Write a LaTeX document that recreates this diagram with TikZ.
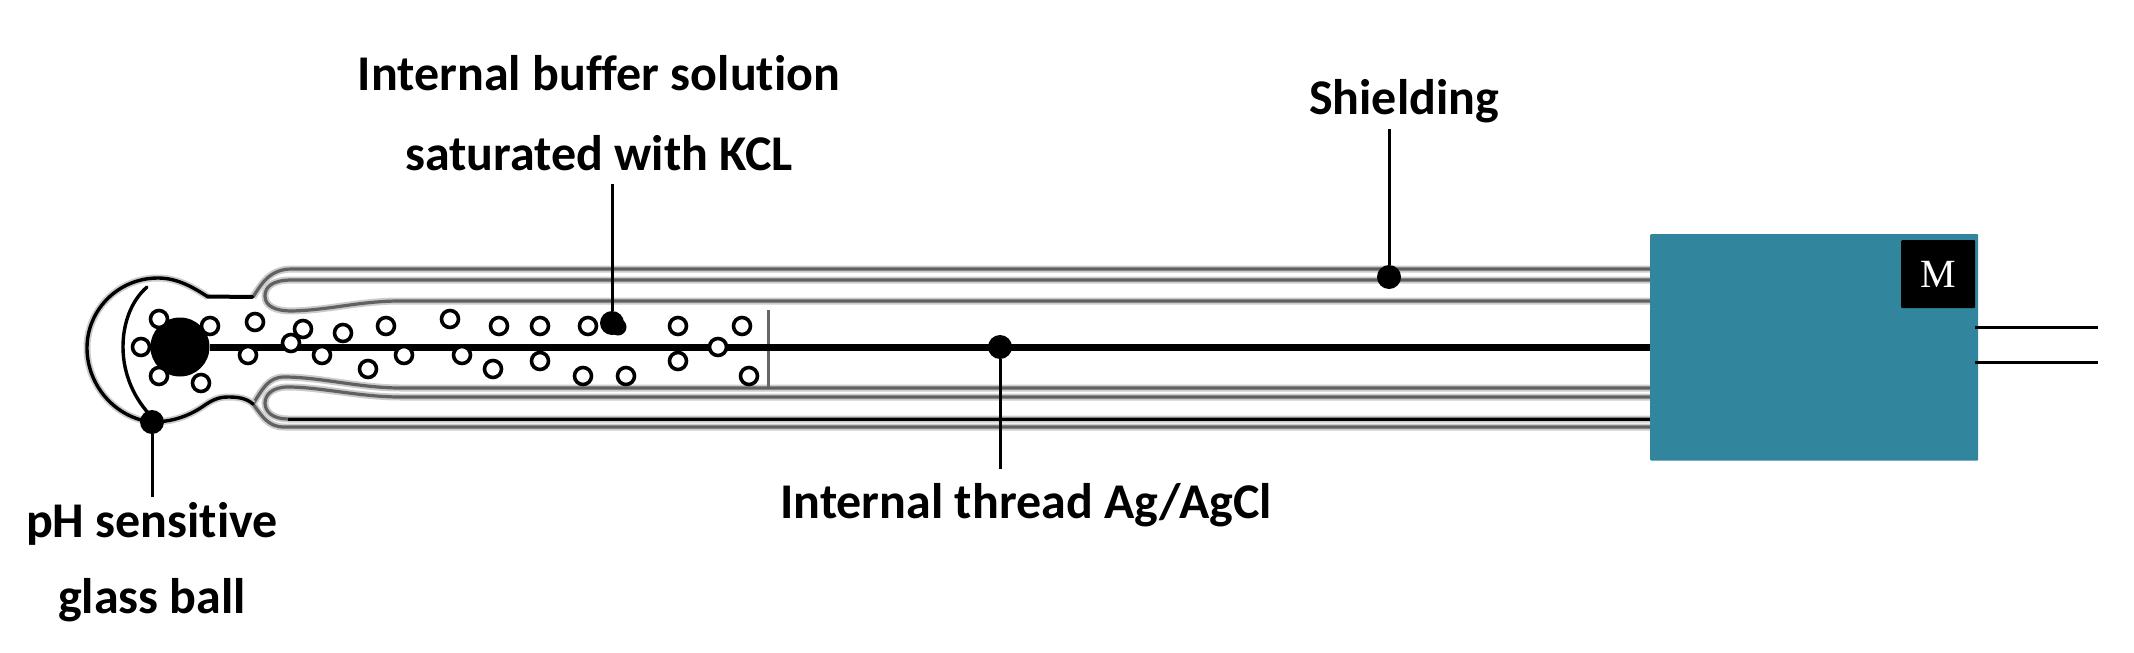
\documentclass[tikz,border=0pt]{standalone}
\usepackage{fontspec}
\setmainfont[RawFeature={-liga;-clig;-dlig}]{Carlito}
\newfontfamily\mfont{Liberation Serif}
\definecolor{teal1}{HTML}{31859C}
\tikzset{
  lab/.style={font=\fontsize{50}{60}\selectfont\bfseries,inner sep=0pt,text=black},
  dotn/.style={circle,fill=black,inner sep=0pt,minimum size=24pt},
  bub/.style={circle,draw=black,fill=white,line width=3.6pt,inner sep=0pt,minimum size=17pt},
  glasshalo/.style={draw=black!20,line width=7pt},
  glass/.style={draw=black!62,line width=3.2pt},
  leader/.style={draw=black,line width=3pt},
  bulb/.style={draw=black,line width=3.4pt,line cap=round},
  wire/.style={draw=black,line width=3pt}
}
\newcommand{\tubepaths}[1]{
  \draw[#1] (253,297) .. controls (262,283) and (270,269) .. (292,269) -- (1652,269);
  \draw[#1] (1652,280) -- (292,280) .. controls (272,280) and (265,287) .. (265,296) .. controls (265,306) and (275,311) .. (292,311) .. controls (330,310) and (360,301) .. (400,301) -- (1652,301);
  \draw[#1] (253,404) .. controls (262,390) and (268,377) .. (284,377) .. controls (320,377) and (360,388) .. (400,388) -- (1652,388);
  \draw[#1] (1652,397) -- (400,397) .. controls (360,397) and (320,387) .. (288,387) .. controls (272,387) and (265,395) .. (265,403) .. controls (265,412) and (273,419) .. (288,419) -- (1652,419);
  \draw[#1] (253,404) .. controls (262,416) and (268,427) .. (284,427) -- (1652,427);
}
\begin{document}
\begin{tikzpicture}[x=1pt,y=-1pt]
\useasboundingbox (0,0) rectangle (2134,653);
% glass tube lines
\tubepaths{glasshalo}
\tubepaths{glass}
\draw[draw=black,line width=3pt] (288,419) -- (1652,419);
% end cap of inner tube
\draw[draw=black!60,line width=3pt] (768,310) -- (768,387);
% bulb
\draw[glasshalo] (208,297) .. controls (190,285) and (175,278) .. (158,278) .. controls (118,278) and (87,310) .. (87,348) .. controls (87,385) and (115,418) .. (152,422) .. controls (178,422) and (195,412) .. (205,405) .. controls (215,398) and (222,397) .. (228,397) .. controls (238,397) and (246,398) .. (253,404);
\draw[bulb] (208,297) .. controls (190,285) and (175,278) .. (158,278) .. controls (118,278) and (87,310) .. (87,348) .. controls (87,385) and (115,418) .. (152,422) .. controls (178,422) and (195,412) .. (205,405) .. controls (215,398) and (222,397) .. (228,397) .. controls (238,397) and (246,398) .. (253,404);
\draw[bulb,line width=4pt] (208,296.5) -- (252,297);
\draw[bulb] (147,287) .. controls (130,302) and (123,325) .. (123,347) .. controls (123,375) and (135,400) .. (152,417);
% box
\node[fill=teal1,inner sep=0pt,minimum width=328pt,minimum height=226.5pt,anchor=north west,rounded corners=1pt] (box) at (1650,234) {};
\node[fill=black,inner sep=0pt,minimum width=74pt,minimum height=68pt,anchor=north west,rounded corners=1pt,text=white,font=\mfont\fontsize{40}{40}\selectfont] (mbox) at (1901,240) {M};
% thread
\node[circle,fill=black,inner sep=0pt,minimum size=59pt] (ball) at (180,347) {};
\coordinate (threadend) at (box.west |- ball);
\draw[draw=black,line width=7pt] (ball) -- (threadend);
% output wires
\coordinate (w1a) at (1975,327);
\coordinate (w1b) at (2098,327);
\coordinate (w2a) at (1975,362);
\coordinate (w2b) at (2098,362);
\draw[wire] (w1a) -- (w1b);
\draw[wire] (w2a) -- (w2b);
% bubbles
\foreach \i/\x/\y in {1/159/319,2/210/326,3/141/347,4/159/376,5/201/383,6/255/322,7/248/355,8/303/329,9/291/343,10/322/355,11/343/333,12/368/369,13/386/326,14/404/355,15/450/319,16/499/326,17/540/326,18/588/326,19/462/355,20/493/369,21/540/361,22/583/376,23/626/376,24/678/326,25/678/361,26/742/326,27/718/347,28/749/376}
  \node[bub] (b\i) at (\x,\y) {};
% labels
\node[lab] (lbuf1) at (599,73) {Internal buffer solution};
\node[lab] (lbuf2) at (599,153) {saturated with KCL};
\node[lab] (lshield) at (1404,101) {Shielding};
\node[lab] (lthread) at (1026,505) {Internal thread Ag/AgCl};
\node[lab] (lph1) at (152,524) {pH sensitive};
\node[lab] (lph2) at (152,600) {glass ball};
% dots and leaders
\node[dotn] (dbuf) at (612,323) {};
\node[circle,fill=black,inner sep=0pt,minimum size=17pt] (dbuf2) at (618,327) {};
\node[dotn] (dshield) at (1389,277) {};
\node[dotn] (dthread) at (1000,347) {};
\node[dotn] (dph) at (152,422) {};
\coordinate (tbuf) at (612,184);
\coordinate (tshield) at (1389,129);
\coordinate (tthread) at (1000,469);
\coordinate (tph) at (152,497);
\draw[leader] (tbuf) -- (dbuf);
\draw[leader] (tshield) -- (dshield);
\draw[leader] (tthread) -- (dthread);
\draw[leader] (tph) -- (dph);
\end{tikzpicture}
\end{document}
